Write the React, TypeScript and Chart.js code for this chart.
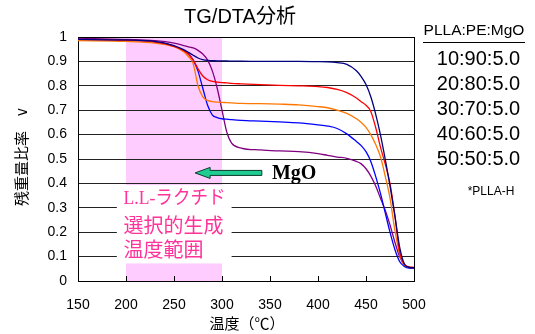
import React, { useEffect, useRef } from "react";
import { Chart, registerables } from "chart.js";

Chart.register(...registerables);

const temps = [150, 200, 230, 250, 260, 265, 270, 275, 280, 285, 290, 295, 300, 305, 310, 320, 340, 360, 380, 400, 410, 420, 430, 440, 445, 450, 455, 460, 465, 470, 475, 480, 485, 490, 495, 500];

const s10_90 = [0.99, 0.988, 0.982, 0.965, 0.948, 0.937, 0.925, 0.914, 0.907, 0.904, 0.903, 0.902, 0.902, 0.902, 0.901, 0.901, 0.9, 0.9, 0.9, 0.899, 0.898, 0.895, 0.888, 0.862, 0.838, 0.805, 0.755, 0.685, 0.6, 0.5, 0.39, 0.27, 0.14, 0.07, 0.056, 0.055];
const s20_80 = [0.99, 0.987, 0.98, 0.962, 0.945, 0.93, 0.905, 0.87, 0.84, 0.825, 0.818, 0.815, 0.813, 0.812, 0.81, 0.808, 0.805, 0.802, 0.8, 0.797, 0.793, 0.785, 0.772, 0.75, 0.735, 0.72, 0.695, 0.63, 0.55, 0.48, 0.4, 0.27, 0.12, 0.068, 0.058, 0.056];
const s30_70 = [0.985, 0.982, 0.975, 0.96, 0.94, 0.92, 0.89, 0.8, 0.755, 0.74, 0.735, 0.733, 0.732, 0.731, 0.73, 0.728, 0.727, 0.725, 0.722, 0.715, 0.71, 0.7, 0.687, 0.665, 0.65, 0.63, 0.6, 0.56, 0.51, 0.43, 0.34, 0.21, 0.11, 0.065, 0.056, 0.055];
const s40_60 = [0.99, 0.987, 0.98, 0.963, 0.945, 0.93, 0.905, 0.86, 0.79, 0.72, 0.68, 0.67, 0.665, 0.663, 0.661, 0.658, 0.655, 0.652, 0.648, 0.64, 0.635, 0.625, 0.603, 0.572, 0.555, 0.53, 0.49, 0.43, 0.36, 0.28, 0.2, 0.13, 0.08, 0.06, 0.053, 0.052];
const s50_50 = [0.995, 0.99, 0.985, 0.975, 0.965, 0.96, 0.955, 0.945, 0.93, 0.905, 0.86, 0.79, 0.7, 0.61, 0.565, 0.545, 0.537, 0.533, 0.53, 0.522, 0.515, 0.508, 0.503, 0.49, 0.48, 0.46, 0.43, 0.39, 0.34, 0.29, 0.23, 0.16, 0.1, 0.065, 0.055, 0.055];

const seriesLabels = ["10:90:5.0", "20:80:5.0", "30:70:5.0", "40:60:5.0", "50:50:5.0"];
const seriesValues = [s10_90, s20_80, s30_70, s40_60, s50_50];
const seriesColors = ["#000080", "#ff0000", "#ff7700", "#0000ff", "#800080"];

const xTickValues = [150, 200, 250, 300, 350, 400, 450, 500];
const bandRange = [200, 300];
const bandText = ["L.L-ラクチド", "選択的生成", "温度範囲"];
const titleText = "TG/DTA分析";
const legendHeader = "PLLA:PE:MgO";
const legendNote = "*PLLA-H";
const xTitle = "温度（℃）";
const yTitle = "残重量比率　v";
const arrowLabel = "MgO";

const SANS = '"Liberation Sans", Arial, sans-serif';
const CJK = '"Liberation Sans", "Noto Sans CJK JP", sans-serif';

const decor = {
  id: "decor",
  beforeDraw(chart: any) {
    const { ctx, chartArea, scales } = chart;
    const x = scales.x;
    const x0 = x.getPixelForValue(bandRange[0]);
    const x1 = x.getPixelForValue(bandRange[1]);
    ctx.save();
    ctx.fillStyle = "#ffccff";
    ctx.fillRect(x0, chartArea.top, x1 - x0, chartArea.bottom - chartArea.top);
    ctx.restore();
  },
  beforeDatasetsDraw(chart: any) {
    const { ctx, scales } = chart;
    const x = scales.x;
    const y = scales.y;
    ctx.save();
    const bx0 = x.getPixelForValue(190.5);
    const bx1 = x.getPixelForValue(310);
    const by0 = y.getPixelForValue(0.393);
    const by1 = y.getPixelForValue(0.072);
    ctx.fillStyle = "#ffffff";
    ctx.fillRect(bx0, by0, bx1 - bx0, by1 - by0);
    ctx.fillStyle = "#ff3399";
    ctx.textAlign = "left";
    ctx.textBaseline = "middle";
    const tx = x.getPixelForValue(197.5);
    ctx.font = '19px "Liberation Serif", "Noto Sans CJK JP", serif';
    ctx.fillText(bandText[0], tx, y.getPixelForValue(0.335), 102);
    ctx.font = '20px "Noto Sans CJK JP", sans-serif';
    ctx.fillText(bandText[1], tx, y.getPixelForValue(0.228), 101);
    ctx.fillText(bandText[2], tx, y.getPixelForValue(0.13), 81);

    const ay = y.getPixelForValue(0.443);
    const tip = x.getPixelForValue(272);
    const tail = x.getPixelForValue(341.5);
    const headLen = 15;
    const sh = 2.5;
    const hh = 5.5;
    ctx.beginPath();
    ctx.moveTo(tip, ay);
    ctx.lineTo(tip + headLen, ay - hh);
    ctx.lineTo(tip + headLen, ay - sh);
    ctx.lineTo(tail, ay - sh);
    ctx.lineTo(tail, ay + sh);
    ctx.lineTo(tip + headLen, ay + sh);
    ctx.lineTo(tip + headLen, ay + hh);
    ctx.closePath();
    ctx.fillStyle = "#1fcc92";
    ctx.fill();
    ctx.strokeStyle = "#0d3b2c";
    ctx.lineWidth = 1;
    ctx.stroke();

    ctx.fillStyle = "#000";
    ctx.font = 'bold 20px "Liberation Serif", serif';
    ctx.textAlign = "left";
    ctx.fillText(arrowLabel, x.getPixelForValue(352), ay + 1);
    ctx.restore();
  },
  afterDraw(chart: any) {
    const { ctx, chartArea, scales } = chart;
    const x = scales.x;
    const { left, right, top, bottom } = chartArea;
    ctx.save();
    ctx.strokeStyle = "#000";
    ctx.lineWidth = 1;
    ctx.beginPath();
    ctx.moveTo(Math.round(right) + 0.5, top);
    ctx.lineTo(Math.round(right) + 0.5, bottom);
    ctx.moveTo(left, Math.round(top) + 0.5);
    ctx.lineTo(right, Math.round(top) + 0.5);
    xTickValues.forEach((v) => {
      const px = Math.round(x.getPixelForValue(v)) + 0.5;
      ctx.moveTo(px, bottom);
      ctx.lineTo(px, bottom - 5);
    });
    ctx.stroke();

    ctx.fillStyle = "#000";
    ctx.textAlign = "center";
    ctx.textBaseline = "middle";
    ctx.font = "20px " + CJK;
    ctx.fillText(titleText, 240, 17);

    ctx.font = '15px "Noto Sans CJK JP", sans-serif';
    ctx.fillText(xTitle, 247, 323);
    ctx.save();
    ctx.translate(21, 157);
    ctx.rotate(-Math.PI / 2);
    ctx.fillText(yTitle, 0, 0);
    ctx.restore();

    ctx.font = "15.5px " + SANS;
    ctx.fillText(legendHeader, 474, 31);
    ctx.beginPath();
    ctx.moveTo(423, 42.5);
    ctx.lineTo(525, 42.5);
    ctx.stroke();
    ctx.font = "20px " + SANS;
    seriesLabels.forEach((s, i) => {
      ctx.fillText(s, 478.5, 59 + i * 25);
    });
    ctx.font = "12px " + SANS;
    ctx.fillText(legendNote, 491, 192);
    ctx.restore();
  },
};

export default function App() {
  const ref = useRef<HTMLCanvasElement | null>(null);
  useEffect(() => {
    document.body.style.margin = "0";
    const canvas = ref.current!;
    const chart = new Chart(canvas, {
      type: "line",
      data: {
        datasets: seriesValues.map((vals, i) => ({
          label: seriesLabels[i],
          data: temps.map((t, j) => ({ x: t, y: vals[j] })),
          borderColor: seriesColors[i],
          backgroundColor: seriesColors[i],
          borderWidth: 1.3,
          pointRadius: 0,
          fill: false,
          cubicInterpolationMode: "monotone" as const,
        })),
      },
      options: {
        responsive: false,
        animation: false,
        events: [],
        layout: { padding: { top: 37, right: 121, left: 0, bottom: 0 } },
        plugins: {
          legend: { display: false },
          tooltip: { enabled: false },
          title: { display: false },
        },
        scales: {
          x: {
            type: "linear",
            min: 150,
            max: 500,
            afterFit: (s: any) => {
              s.height = 53;
            },
            grid: { display: false, drawTicks: false },
            border: { display: true, color: "#000", width: 1 },
            ticks: {
              stepSize: 50,
              padding: 16,
              color: "#000",
              font: { family: SANS, size: 14 },
              maxRotation: 0,
            },
          },
          y: {
            type: "linear",
            min: 0,
            max: 1,
            afterFit: (s: any) => {
              s.width = 78;
            },
            grid: { display: true, color: "#222", lineWidth: 1, drawTicks: false },
            border: { display: true, color: "#000", width: 1 },
            ticks: {
              stepSize: 0.1,
              padding: 11,
              color: "#000",
              font: { family: SANS, size: 14 },
              callback: (v: any) => String(Math.round(Number(v) * 10) / 10),
            },
          },
        },
      },
      plugins: [decor],
    });
    return () => chart.destroy();
  }, []);
  return <canvas ref={ref} width={535} height={334} style={{ display: "block" }} />;
}
